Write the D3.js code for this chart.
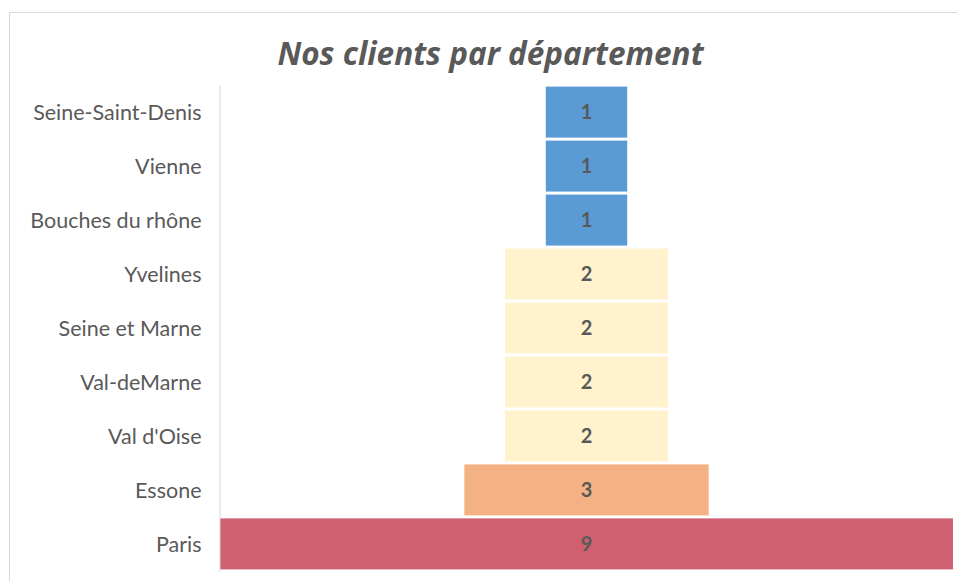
<!DOCTYPE html>
<html>
<head>
<meta charset="utf-8">
<script src="https://cdn.jsdelivr.net/npm/d3@7"></script>
<style>
  html, body { margin: 0; padding: 0; background: #fff; }
  svg { display: block; }
</style>
</head>
<body>
<div id="chart"></div>
<script>
// data
const departements = ['Seine-Saint-Denis', 'Vienne', 'Bouches du rhône', 'Yvelines', 'Seine et Marne', 'Val-deMarne', "Val d'Oise", 'Essone', 'Paris'];
const clients = [1, 1, 1, 2, 2, 2, 2, 3, 9];
const niveaux = [1, 2, 3, 9];
const titre = 'Nos clients par département';

const W = 957, H = 581;
const textColor = '#595959';
const font = 'Lato, "Open Sans", sans-serif';

const svg = d3.select('#chart').append('svg')
  .attr('width', W)
  .attr('height', H);

// chart area frame (only top and left visible in the crop)
svg.append('path')
  .attr('d', `M9.5,${H} V12.5 H${W}`)
  .attr('fill', 'none')
  .attr('stroke', '#d9d9d9')
  .attr('stroke-width', 1);

const rows = departements.map((d, i) => ({ name: d, value: clients[i] }));

const y = d3.scaleBand()
  .domain(departements)
  .range([85, 571])
  .paddingInner(0.055)
  .paddingOuter(0.03);

const maxVal = d3.max(clients);
const x = d3.scaleLinear()
  .domain([-maxVal / 2, maxVal / 2])
  .range([220, 953]);

const color = d3.scaleOrdinal()
  .domain(niveaux)
  .range(['#5b9bd5', '#fff2cc', '#f4b183', '#d05f6f']);

// funnel bars, centred on zero
svg.selectAll('.bar')
  .data(rows)
  .enter().append('rect')
  .attr('class', 'bar')
  .attr('x', d => x(-d.value / 2))
  .attr('y', d => y(d.name))
  .attr('width', d => x(d.value / 2) - x(-d.value / 2))
  .attr('height', y.bandwidth())
  .attr('fill', d => color(d.value));

svg.selectAll('.val')
  .data(rows)
  .enter().append('text')
  .attr('class', 'val')
  .attr('x', x(0))
  .attr('y', d => y(d.name) + y.bandwidth() / 2)
  .attr('dy', '0.36em')
  .attr('text-anchor', 'middle')
  .style('font-family', font)
  .style('font-weight', 'bold')
  .style('font-size', '20px')
  .style('fill', textColor)
  .text(d => d.value);

// category axis
const yAxis = svg.append('g')
  .attr('transform', 'translate(219.5,0)')
  .call(d3.axisLeft(y).tickSize(0).tickSizeOuter(0).tickPadding(18));
yAxis.select('.domain').attr('stroke', '#d9d9d9');
yAxis.selectAll('text')
  .attr('dy', '0.38em')
  .style('font-family', font)
  .style('font-size', '21.5px')
  .style('fill', textColor);

// title
svg.append('text')
  .attr('x', 490.5)
  .attr('y', 65)
  .attr('text-anchor', 'middle')
  .style('font-family', '"Open Sans", sans-serif')
  .style('font-weight', 'bold')
  .style('font-style', 'italic')
  .style('font-size', '31.5px')
  .style('fill', textColor)
  .text(titre);
</script>
</body>
</html>
